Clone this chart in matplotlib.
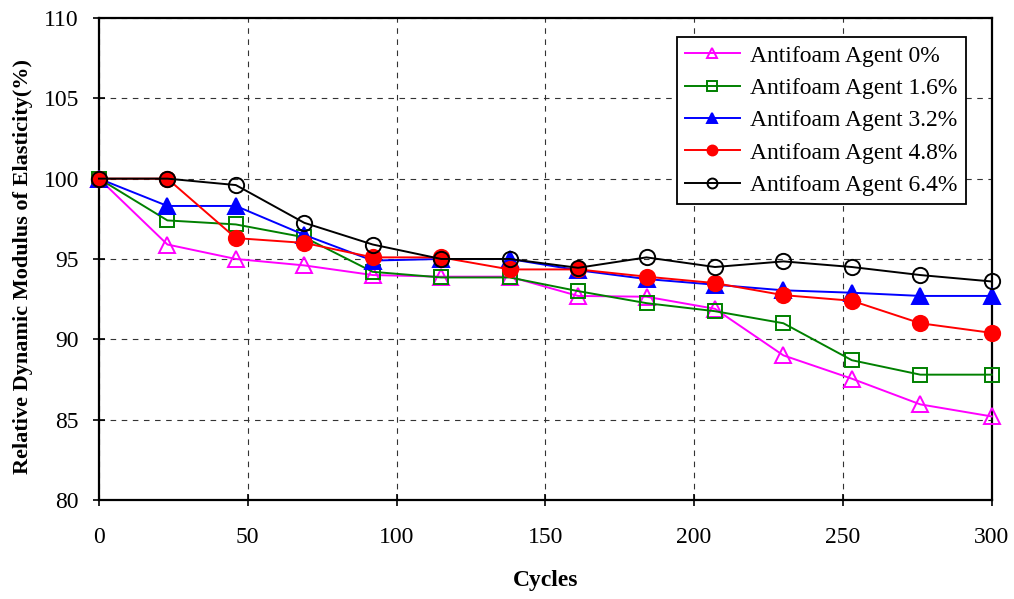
import matplotlib.pyplot as plt

cycles = [0, 23, 46, 69, 92, 115, 138, 161, 184, 207, 230, 253, 276, 300]

agent_0 = [100, 95.9, 95.0, 94.6, 94.0, 93.9, 93.9, 92.7, 92.65, 91.9, 89.0, 87.55, 85.95, 85.2]
agent_16 = [100, 97.4, 97.15, 96.35, 94.2, 93.85, 93.85, 93.0, 92.25, 91.75, 91.0, 88.7, 87.8, 87.8]
agent_32 = [100, 98.3, 98.3, 96.5, 94.9, 95.0, 95.0, 94.3, 93.75, 93.4, 93.05, 92.9, 92.7, 92.7]
agent_48 = [100, 100, 96.3, 96.0, 95.1, 95.1, 94.35, 94.35, 93.9, 93.5, 92.75, 92.4, 91.0, 90.4]
agent_64 = [100, 100, 99.6, 97.25, 95.9, 95.0, 95.0, 94.45, 95.1, 94.5, 94.85, 94.5, 94.0, 93.6]

labels = ["Antifoam Agent 0%", "Antifoam Agent 1.6%", "Antifoam Agent 3.2%",
          "Antifoam Agent 4.8%", "Antifoam Agent 6.4%"]

plt.rcParams['font.family'] = ['Liberation Serif', 'DejaVu Serif']

fig = plt.figure(figsize=(10.14, 5.99), dpi=100)
ax = fig.add_axes([0.0976, 0.1653, 0.8804, 0.8047])

# data, colour, marker, filled, marker size
series = [
    (agent_0, '#FF00FF', '^', False, 12),
    (agent_16, '#008000', 's', False, 10),
    (agent_32, '#0000FF', '^', True, 12),
    (agent_48, '#FF0000', 'o', True, 11),
    (agent_64, '#000000', 'o', False, 11),
]

for (vals, col, mk, filled, ms), lab in zip(series, labels):
    ax.plot(cycles, vals, color=col, marker=mk, ms=ms,
            mfc=col if filled else 'none', mec=col, mew=1.4,
            lw=1.4, label=lab, clip_on=False, zorder=3)

ax.set_xlim(0, 300)
ax.set_ylim(80, 110)
ax.set_xticks([0, 50, 100, 150, 200, 250, 300])
ax.set_yticks([80, 85, 90, 95, 100, 105, 110])

ax.grid(True, linestyle=(0, (5, 5)), color='#333333', lw=0.8)
ax.set_axisbelow(True)

for s in ax.spines.values():
    s.set_linewidth(1.6)
    s.set_color('black')

ax.tick_params(axis='both', direction='inout', length=9, width=1.2,
               labelsize=17, colors='black')
ax.tick_params(axis='x', pad=15)
ax.tick_params(axis='y', pad=10)

ax.set_xlabel('Cycles', fontsize=17, fontweight='bold', labelpad=16)
ax.set_ylabel('Relative Dynamic Modulus of Elasticity(%)', fontsize=16,
              fontweight='bold')
ax.yaxis.set_label_coords(-0.074, 0.485)

leg = ax.legend(loc='upper right', bbox_to_anchor=(0.971, 0.961),
                fontsize=17, frameon=True, fancybox=False, edgecolor='black',
                framealpha=1, borderpad=0.35, labelspacing=0.46,
                handlelength=2.3, handletextpad=0.45, markerscale=0.65,
                borderaxespad=0)
leg.get_frame().set_linewidth(1.3)

fig.savefig('out.png', dpi=100)
